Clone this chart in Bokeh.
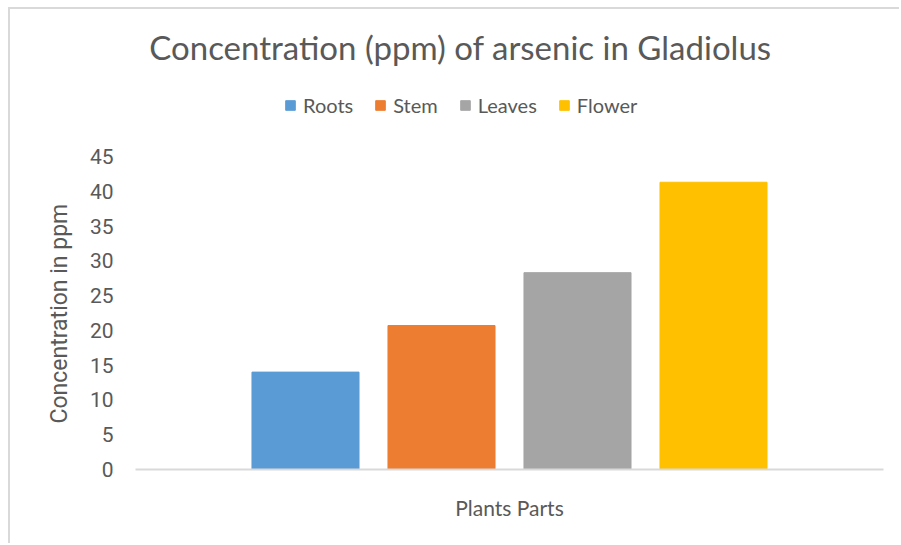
from bokeh.plotting import figure
from bokeh.models import (FactorRange, Range1d, Legend, LegendItem, ColumnDataSource,
                          FixedTicker, Label, Title)
from bokeh.embed import file_html
from bokeh.resources import INLINE

parts = ["Roots", "Stem", "Leaves", "Flower"]
values = [14.0, 20.7, 28.3, 41.3]
colors = ["#5b9bd5", "#ed7d31", "#a5a5a5", "#ffc000"]
y_ticks = [0, 5, 10, 15, 20, 25, 30, 35, 40, 45]
title_text = "Concentration (ppm) of arsenic in Gladiolus"
x_label = "Plants Parts"
y_label = "Concentration in ppm"

# layout (pixels)
W, H = 891, 536
B_LEFT, B_RIGHT, B_TOP, B_BOTTOM = 125, 18, 10, 76
frame_h = H - B_TOP - B_BOTTOM
axis_px = 313.0                      # pixel height of the 0..45 span
y_max_tick = 45
y_end = y_max_tick * frame_h / axis_px
unit_px = axis_px / y_max_tick
x_unit_px = 136.0                    # pixels per category

src = ColumnDataSource(dict(x=parts, top=values, color=colors))

p = figure(width=W, height=H, output_backend="svg", toolbar_location=None,
           x_range=FactorRange(*parts, range_padding=0.75, range_padding_units="absolute"),
           y_range=Range1d(0, y_end),
           min_border_left=B_LEFT, min_border_right=B_RIGHT,
           min_border_top=B_TOP, min_border_bottom=B_BOTTOM)
p.margin = (7, 0, 0, 8)
p.styles = {"border-left": "2px solid #d9d9d9", "border-top": "2px solid #d9d9d9"}
p.outline_line_color = None
p.xgrid.grid_line_color = None
p.ygrid.grid_line_color = None

r = p.vbar(x="x", top="top", width=0.787, color="color", source=src)

# x axis
p.xaxis.axis_line_color = "#d9d9d9"
p.xaxis.axis_line_width = 2
p.xaxis.major_tick_line_color = None
p.xaxis.minor_tick_line_color = None
p.xaxis.major_label_text_font_size = "0px"
p.xaxis.major_label_text_color = None
p.xaxis.axis_label = x_label
p.xaxis.axis_label_text_font = "Lato"
p.xaxis.axis_label_text_font_size = "21px"
p.xaxis.axis_label_text_font_style = "normal"
p.xaxis.axis_label_text_color = "#595959"
p.xaxis.axis_label_standoff = 19

# y axis
p.yaxis.ticker = FixedTicker(ticks=y_ticks)
p.yaxis.axis_line_color = None
p.yaxis.major_tick_line_color = None
p.yaxis.minor_tick_line_color = None
p.yaxis.major_label_text_font = "Roboto"
p.yaxis.major_label_text_font_size = "21px"
p.yaxis.major_label_text_color = "#595959"
p.yaxis.major_label_standoff = 16

# y axis title, placed along the 0..45 span
ytitle = Title(text=y_label, align="left", offset=46, standoff=28,
               text_font="Roboto", text_font_size="23px", text_font_style="normal",
               text_color="#595959")
p.add_layout(ytitle, "left")

# legend
items = [LegendItem(label=parts[i], renderers=[r], index=i) for i in range(len(parts))]
legend = Legend(items=items, orientation="horizontal", location=(149, 352),
                glyph_width=12, glyph_height=12, label_standoff=7, spacing=21,
                padding=0, margin=0, border_line_color=None, background_fill_alpha=0,
                label_height=20, label_text_font="Lato", label_text_font_size="20px",
                label_text_color="#595959")
p.add_layout(legend, "center")

# chart title
title_x = -0.75 + (460 - 135) / x_unit_px
title_y = y_max_tick + (156 - 46) / unit_px
title = Label(x=title_x, y=title_y, text=title_text,
              text_font="Lato", text_font_size="33px", text_color="#595959",
              text_align="center", text_baseline="middle")
p.add_layout(title)

open("out.html", "w").write(file_html(p, INLINE))
